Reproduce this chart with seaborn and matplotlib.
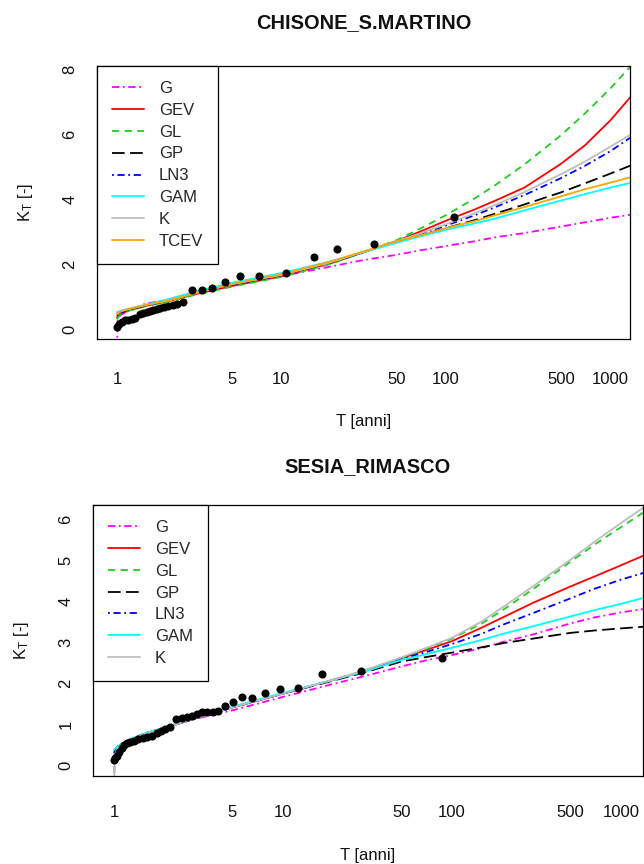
import numpy as np
import pandas as pd
import matplotlib
matplotlib.use("Agg")
import matplotlib.pyplot as plt
from matplotlib.ticker import NullLocator
import seaborn as sns

# ---------------- data: top panel (CHISONE_S.MARTINO) ----------------
T_top = [1.0, 1.05, 1.2, 1.5, 2, 3, 5, 10, 20, 30, 50, 70, 100, 150, 200, 300, 500, 700, 1000, 1315]
gev_top = [0.35, 0.47, 0.58, 0.71, 0.84, 1.07, 1.32, 1.62, 2.02, 2.32, 2.70, 3.00, 3.33, 3.68, 3.95, 4.35, 5.08, 5.65, 6.42, 7.12]
gl_top = [0.30, 0.45, 0.57, 0.70, 0.83, 1.05, 1.30, 1.60, 2.00, 2.32, 2.73, 3.09, 3.50, 4.02, 4.43, 5.06, 5.96, 6.63, 7.40, 8.06]
gp_top = [0.45, 0.52, 0.61, 0.73, 0.87, 1.12, 1.38, 1.66, 2.05, 2.33, 2.68, 2.88, 3.10, 3.35, 3.55, 3.83, 4.20, 4.48, 4.78, 5.02]
ln3_top = [0.40, 0.50, 0.60, 0.72, 0.86, 1.10, 1.36, 1.65, 2.05, 2.33, 2.70, 2.92, 3.18, 3.50, 3.75, 4.12, 4.64, 5.02, 5.47, 5.88]
gam_top = [0.52, 0.56, 0.63, 0.75, 0.90, 1.15, 1.42, 1.72, 2.08, 2.33, 2.65, 2.85, 3.05, 3.25, 3.40, 3.65, 3.95, 4.15, 4.35, 4.49]
k_top = [0.50, 0.55, 0.62, 0.74, 0.86, 1.10, 1.38, 1.66, 2.05, 2.34, 2.70, 2.94, 3.22, 3.56, 3.82, 4.21, 4.76, 5.15, 5.61, 5.97]
tcev_top = [0.45, 0.53, 0.62, 0.74, 0.86, 1.10, 1.38, 1.68, 2.08, 2.35, 2.70, 2.88, 3.10, 3.32, 3.50, 3.75, 4.08, 4.30, 4.50, 4.66]
TG_top = [1.0, 1.01, 1.05, 1.2, 1.5, 2, 3, 5, 10, 20, 30, 50, 70, 100, 150, 200, 300, 500, 700, 1000, 1315]
g_top = [-0.6, 0.33, 0.42, 0.60, 0.78, 0.89, 1.10, 1.35, 1.63, 1.92, 2.10, 2.28, 2.42, 2.55, 2.70, 2.82, 2.95, 3.15, 3.28, 3.42, 3.51]

Tobs_top = [1.0, 1.033, 1.068, 1.118, 1.172, 1.228, 1.287, 1.38, 1.445, 1.515, 1.587,
            1.662, 1.742, 1.826, 1.93, 2.05, 2.18, 2.33, 2.51, 2.84, 3.27, 3.76, 4.53,
            5.60, 7.29, 10.6, 15.8, 21.8, 36.6, 112]
Kobs_top = [0.05, 0.15, 0.22, 0.26, 0.28, 0.30, 0.33, 0.45, 0.50, 0.53, 0.56,
            0.58, 0.61, 0.63, 0.66, 0.71, 0.74, 0.77, 0.82, 1.20, 1.20, 1.26, 1.43,
            1.64, 1.64, 1.73, 2.22, 2.45, 2.61, 3.44]

# ---------------- data: bottom panel (SESIA_RIMASCO) ----------------
T_bot = [1.0, 1.05, 1.2, 1.5, 2, 3, 5, 10, 20, 30, 50, 70, 100, 150, 200, 300, 500, 700, 1000, 1349]
gev_bot = [0.30, 0.42, 0.58, 0.75, 0.90, 1.13, 1.40, 1.74, 2.08, 2.28, 2.60, 2.80, 3.02, 3.35, 3.60, 3.95, 4.35, 4.60, 4.87, 5.10]
gl_bot = [0.28, 0.40, 0.57, 0.74, 0.90, 1.13, 1.40, 1.74, 2.08, 2.30, 2.61, 2.83, 3.08, 3.45, 3.78, 4.28, 4.95, 5.38, 5.80, 6.15]
gp_bot = [0.35, 0.45, 0.59, 0.76, 0.91, 1.14, 1.41, 1.74, 2.06, 2.25, 2.52, 2.63, 2.74, 2.87, 2.97, 3.08, 3.22, 3.28, 3.33, 3.37]
ln3_bot = [0.30, 0.42, 0.58, 0.75, 0.90, 1.13, 1.40, 1.74, 2.08, 2.28, 2.58, 2.75, 2.95, 3.20, 3.42, 3.70, 4.06, 4.30, 4.52, 4.68]
gam_bot = [0.37, 0.45, 0.60, 0.76, 0.92, 1.15, 1.42, 1.76, 2.08, 2.27, 2.56, 2.70, 2.86, 3.05, 3.20, 3.38, 3.62, 3.78, 3.93, 4.07]
TGK_bot = [1.0, 1.01, 1.05, 1.2, 1.5, 2, 3, 5, 10, 20, 30, 50, 70, 100, 150, 200, 300, 500, 700, 1000, 1349]
k_bot = [-0.5, 0.25, 0.40, 0.57, 0.74, 0.90, 1.13, 1.40, 1.74, 2.08, 2.30, 2.62, 2.85, 3.10, 3.50, 3.85, 4.35, 5.00, 5.45, 5.90, 6.27]
g_bot = [-0.6, 0.28, 0.42, 0.60, 0.76, 0.91, 1.12, 1.33, 1.66, 1.98, 2.16, 2.40, 2.55, 2.68, 2.85, 3.00, 3.18, 3.45, 3.60, 3.72, 3.80]

Tobs_bot = [1.0, 1.014, 1.046, 1.075, 1.11, 1.146, 1.19, 1.243, 1.31, 1.39, 1.48, 1.56,
            1.67, 1.79, 1.89, 2.0, 2.14, 2.33, 2.52, 2.69, 2.88, 3.09, 3.30, 3.54, 3.83,
            4.14, 4.53, 5.04, 5.69, 6.58, 7.82, 9.59, 12.3, 17.1, 28.9, 86.9]
Kobs_bot = [0.12, 0.16, 0.22, 0.32, 0.41, 0.49, 0.53, 0.57, 0.59, 0.63, 0.65, 0.69,
            0.71, 0.77, 0.83, 0.87, 0.93, 1.11, 1.14, 1.18, 1.20, 1.24, 1.28, 1.30, 1.30,
            1.32, 1.44, 1.54, 1.65, 1.64, 1.75, 1.85, 1.87, 2.22, 2.30, 2.60]

xticks = [1, 5, 10, 50, 100, 500, 1000]
xticklabels = ["1", "5", "10", "50", "100", "500", "1000"]

# ---------------- styles ----------------
styles = {
    "G": ("#FF00FF", (0, (4, 2, 1, 2))),
    "GEV": ("#FF0000", "-"),
    "GL": ("#22CC22", (0, (4, 3))),
    "GP": ("#000000", (0, (7, 3))),
    "LN3": ("#0000FF", (0, (1, 2, 4, 2))),
    "GAM": ("#00FFFF", "-"),
    "K": ("#BEBEBE", "-"),
    "TCEV": ("#FFA500", "-"),
}

sns.set_theme(style="white")
plt.rcParams["font.family"] = ["Liberation Sans", "DejaVu Sans"]
plt.rcParams["mathtext.fontset"] = "custom"
plt.rcParams["mathtext.rm"] = "Liberation Sans"
plt.rcParams["mathtext.it"] = "Liberation Sans"

W, H = 644, 864
fig = plt.figure(figsize=(W / 100, H / 100), dpi=100)
ax1 = fig.add_axes([97 / W, 1 - 339 / H, (630 - 97) / W, (339 - 66) / H])
ax2 = fig.add_axes([93 / W, 1 - 776 / H, (643 - 93) / W, (776 - 505) / H])


def draw(ax, curves, Tobs, Kobs, xlim, ylim, yticks, title, xpad, tpad):
    for name, T, vals in curves:
        col, ls = styles[name]
        sns.lineplot(x=T, y=vals, ax=ax, color=col, linestyle=ls, lw=1.3,
                     label=name, estimator=None, sort=False)
    sns.scatterplot(x=Tobs, y=Kobs, ax=ax, color="black", s=34,
                    edgecolor="black", linewidth=0, zorder=5, legend=False)
    ax.set_xscale("log")
    ax.set_xlim(*xlim)
    ax.set_ylim(*ylim)
    ax.set_xticks(xticks)
    ax.set_xticklabels(xticklabels)
    ax.xaxis.set_minor_locator(NullLocator())
    ax.set_yticks(yticks)
    ax.set_yticklabels([str(v) for v in yticks])
    ax.tick_params(axis="both", which="major", direction="out", length=6,
                   width=0.8, color="black", labelsize=12, labelcolor="#111111")
    ax.tick_params(axis="x", pad=xpad)
    ax.tick_params(axis="y", pad=8, labelrotation=90)
    for lab in ax.get_yticklabels():
        lab.set_va("center")
    for sp in ax.spines.values():
        sp.set_color("black")
        sp.set_linewidth(0.9)
    ax.set_xlabel("T [anni]", fontsize=12, labelpad=20, color="#111111")
    ax.set_ylabel(r"$\mathrm{K_T}$ [-]", fontsize=12, labelpad=20, color="#111111")
    ax.set_title(title, fontsize=14.4, fontweight="bold", pad=tpad, color="#111111")
    leg = ax.legend(loc="upper left", borderaxespad=0, frameon=True, fancybox=False,
                    edgecolor="black", framealpha=1, fontsize=12, handlelength=1.9,
                    handletextpad=0.9, borderpad=0.9, labelspacing=0.41)
    leg.get_frame().set_linewidth(0.9)
    ax.grid(False)


curves_top = [("G", TG_top, g_top), ("GEV", T_top, gev_top), ("GL", T_top, gl_top),
              ("GP", T_top, gp_top), ("LN3", T_top, ln3_top), ("GAM", T_top, gam_top),
              ("K", T_top, k_top), ("TCEV", T_top, tcev_top)]
curves_bot = [("G", TGK_bot, g_bot), ("GEV", T_bot, gev_bot), ("GL", T_bot, gl_bot),
              ("GP", T_bot, gp_bot), ("LN3", T_bot, ln3_bot), ("GAM", T_bot, gam_bot),
              ("K", TGK_bot, k_bot)]

draw(ax1, curves_top, Tobs_top, Kobs_top, (0.756, 1315), (-0.31, 8.09),
     [0, 2, 4, 6, 8], "CHISONE_S.MARTINO", 17.5, 27)
draw(ax2, curves_bot, Tobs_bot, Kobs_bot, (0.751, 1349), (-0.27, 6.34),
     [0, 1, 2, 3, 4, 5, 6], "SESIA_RIMASCO", 15, 24)

fig.savefig("out.png", dpi=100)
